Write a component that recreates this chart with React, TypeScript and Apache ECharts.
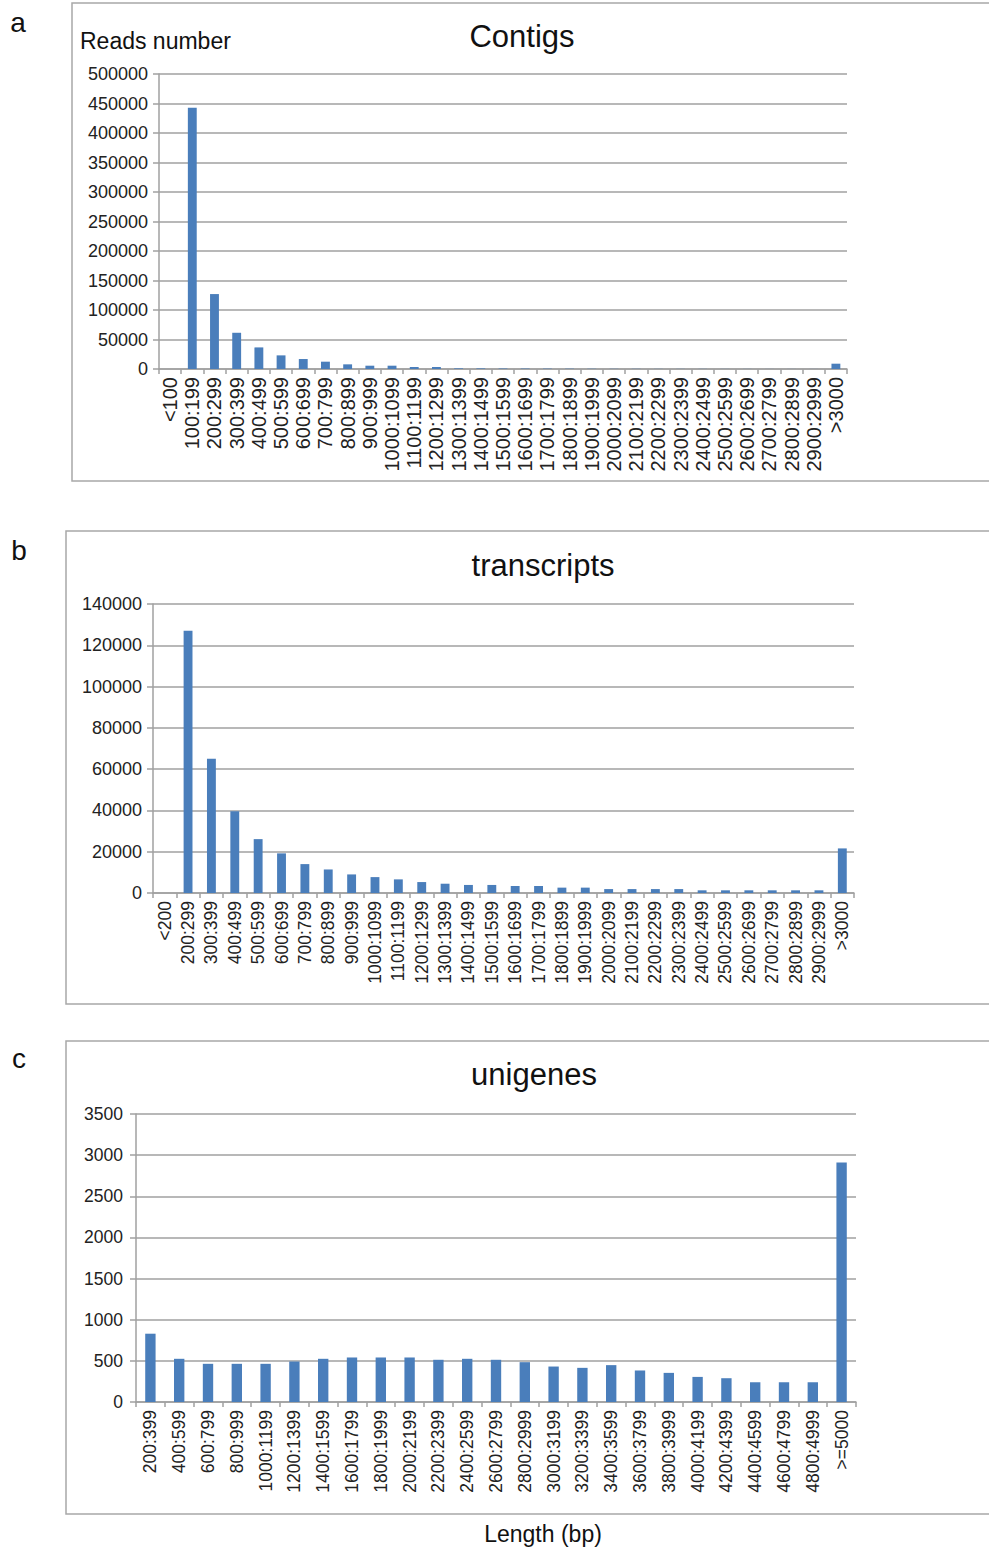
import React, { useEffect, useRef } from "react";
import * as echarts from "echarts";

const contigCats = ["<100", "100:199", "200:299", "300:399", "400:499", "500:599", "600:699", "700:799", "800:899", "900:999", "1000:1099", "1100:1199", "1200:1299", "1300:1399", "1400:1499", "1500:1599", "1600:1699", "1700:1799", "1800:1899", "1900:1999", "2000:2099", "2100:2199", "2200:2299", "2300:2399", "2400:2499", "2500:2599", "2600:2699", "2700:2799", "2800:2899", "2900:2999", ">3000"];
const contigVals = [0, 443000, 127000, 61400, 36600, 23100, 16900, 12400, 7900, 5600, 5600, 3400, 3400, 1100, 1000, 800, 700, 600, 500, 400, 300, 300, 200, 200, 200, 150, 150, 100, 100, 100, 9000];

const transcriptCats = ["<200", "200:299", "300:399", "400:499", "500:599", "600:699", "700:799", "800:899", "900:999", "1000:1099", "1100:1199", "1200:1299", "1300:1399", "1400:1499", "1500:1599", "1600:1699", "1700:1799", "1800:1899", "1900:1999", "2000:2099", "2100:2199", "2200:2299", "2300:2399", "2400:2499", "2500:2599", "2600:2699", "2700:2799", "2800:2899", "2900:2999", ">3000"];
const transcriptVals = [0, 127000, 65000, 39600, 26100, 19200, 14000, 11400, 9000, 7700, 6600, 5300, 4500, 3900, 3900, 3400, 3400, 2600, 2600, 1900, 1900, 1900, 1900, 1300, 1300, 1300, 1300, 1300, 1300, 21600];

const unigeneCats = ["200:399", "400:599", "600:799", "800:999", "1000:1199", "1200:1399", "1400:1599", "1600:1799", "1800:1999", "2000:2199", "2200:2399", "2400:2599", "2600:2799", "2800:2999", "3000:3199", "3200:3399", "3400:3599", "3600:3799", "3800:3999", "4000:4199", "4200:4399", "4400:4599", "4600:4799", "4800:4999", ">=5000"];
const unigeneVals = [830, 525, 464, 464, 464, 492, 525, 541, 541, 541, 513, 525, 513, 484, 431, 415, 448, 383, 354, 305, 289, 240, 240, 240, 2910];

const W = 989;
const H = 1551;
const FONT = "Liberation Sans, Arial, sans-serif";
const BAR = "#4a7ebb";
const GRID = "#a0a0a0";

function xAxisFor(gridIndex: number, cats: string[], fs: number) {
  return {
    type: "category",
    gridIndex,
    data: cats,
    boundaryGap: true,
    axisLine: { show: true, lineStyle: { color: GRID, width: 1.5 } },
    axisTick: { show: true, length: 5, lineStyle: { color: GRID, width: 1.5 } },
    axisLabel: { interval: 0, rotate: 90, margin: 8, fontSize: fs, fontFamily: FONT, color: "#222" },
    splitLine: { show: false },
  };
}

function yAxisFor(gridIndex: number, max: number, interval: number, fs: number, margin: number) {
  return {
    type: "value",
    gridIndex,
    min: 0,
    max,
    interval,
    axisLine: { show: true, lineStyle: { color: GRID, width: 1.5 } },
    axisTick: { show: true, length: 6, lineStyle: { color: GRID, width: 1.5 } },
    axisLabel: {
      margin,
      fontSize: fs,
      fontFamily: FONT,
      color: "#222",
      formatter: (v: number) => String(v),
    },
    splitLine: { show: true, lineStyle: { color: GRID, width: 1.5 } },
  };
}

function txt(x: number, y: number, text: string, size: number, align = "center") {
  return {
    type: "text",
    x,
    y,
    style: { text, fontSize: size, fontFamily: FONT, fill: "#111", textAlign: align, textVerticalAlign: "middle" },
  };
}

function frame(x: number, y: number, w: number, h: number) {
  return {
    type: "rect",
    shape: { x, y, width: w, height: h },
    style: { fill: "none", stroke: "#a8a8a8", lineWidth: 1.5 },
  };
}

export default function App() {
  const ref = useRef<HTMLDivElement>(null);
  useEffect(() => {
    if (!ref.current) return;
    const chart = echarts.init(ref.current, null, { renderer: "svg", width: W, height: H });
    chart.setOption({
      animation: false,
      backgroundColor: "#ffffff",
      grid: [
        { left: 159, top: 74, width: 688, height: 295, containLabel: false },
        { left: 153, top: 604, width: 701, height: 289, containLabel: false },
        { left: 136, top: 1114, width: 720, height: 288, containLabel: false },
      ],
      xAxis: [
        xAxisFor(0, contigCats, 20),
        xAxisFor(1, transcriptCats, 17.5),
        xAxisFor(2, unigeneCats, 17.5),
      ],
      yAxis: [
        yAxisFor(0, 500000, 50000, 18, 11),
        yAxisFor(1, 140000, 20000, 18, 11),
        yAxisFor(2, 3500, 500, 17.5, 13),
      ],
      series: [
        { type: "bar", xAxisIndex: 0, yAxisIndex: 0, data: contigVals, barWidth: "40%", itemStyle: { color: BAR } },
        { type: "bar", xAxisIndex: 1, yAxisIndex: 1, data: transcriptVals, barWidth: "38%", itemStyle: { color: BAR } },
        { type: "bar", xAxisIndex: 2, yAxisIndex: 2, data: unigeneVals, barWidth: "36%", itemStyle: { color: BAR } },
      ],
      graphic: [
        frame(72, 3, 940, 478),
        frame(66, 531, 940, 473),
        frame(66, 1041, 940, 473),
        txt(18, 22, "a", 28),
        txt(19, 550, "b", 28),
        txt(19, 1058, "c", 28),
        txt(80, 41, "Reads number", 23, "left"),
        txt(522, 36, "Contigs", 31),
        txt(543, 565, "transcripts", 31),
        txt(534, 1074, "unigenes", 31),
        txt(543, 1534, "Length (bp)", 23),
      ],
    });
    return () => chart.dispose();
  }, []);
  return (
    <div
      ref={ref}
      style={{ position: "absolute", left: 0, top: 0, width: W, height: H, background: "#fff" }}
    />
  );
}
